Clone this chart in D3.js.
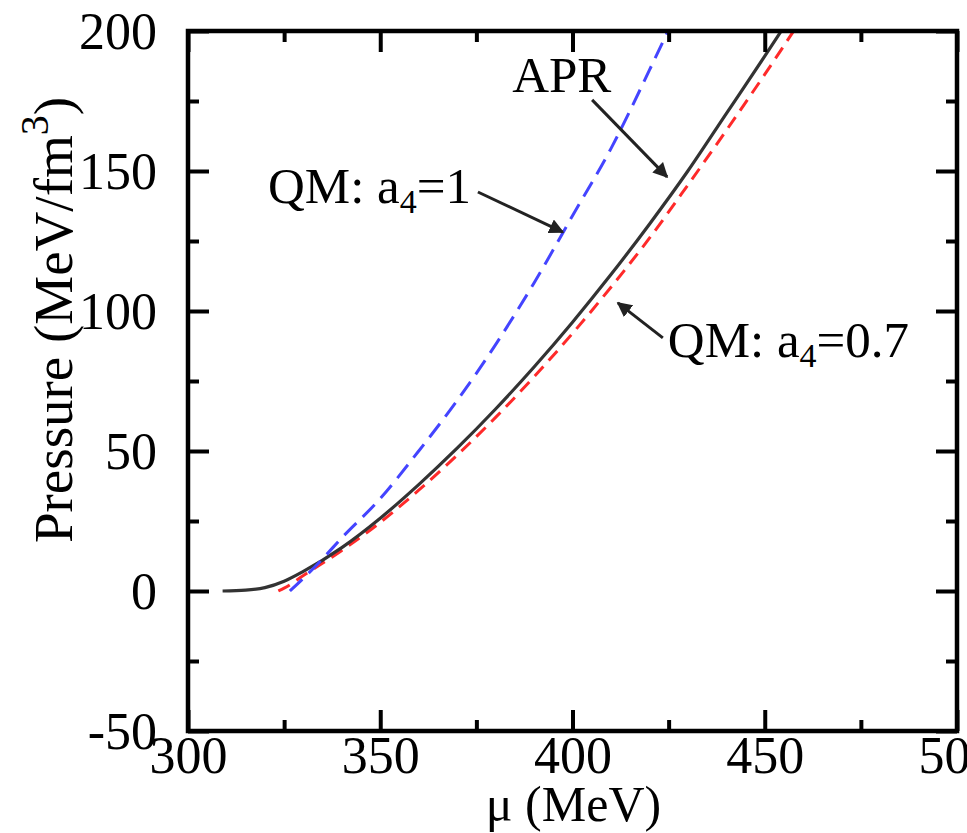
<!DOCTYPE html>
<html>
<head>
<meta charset="utf-8">
<script src="https://cdn.jsdelivr.net/npm/d3@7"></script>
<style>
  html, body { margin: 0; padding: 0; background: #fff; }
  svg { display: block; }
  text { font-family: "Liberation Serif", "Times New Roman", serif; fill: #000; }
</style>
</head>
<body>
<svg id="chart" width="967" height="833"></svg>
<script>
// ---- data ----
const xTicks = [300, 350, 400, 450, 500];
const xTickLabels = ["300", "350", "400", "450", "500"];
const yTicks = [-50, 0, 50, 100, 150, 200];
const yTickLabels = ["-50", "0", "50", "100", "150", "200"];
const xMinorTicks = [325, 375, 425, 475];
const yMinorTicks = [-25, 25, 75, 125, 175];

// APR (solid black)
const muAPR = [309, 315, 320, 325, 330, 340, 350, 360, 370, 380, 390, 400, 410, 420, 430, 440, 450, 455];
const pAPR  = [0, 0.3, 1.2, 3.5, 7, 15.5, 26, 38, 51, 65, 80, 96, 113, 131, 150, 170.5, 191, 201.5];

// QM: a4=1 (blue dashed)
const muQM1 = [326.5, 330, 335, 340, 350, 360, 370, 380, 390, 400, 410, 420, 425];
const pQM1  = [0, 4.5, 11.5, 19, 33, 50, 68, 88, 110, 134, 158, 186, 200.5];

// QM: a4=0.7 (red dashed)
const muQM07 = [323.5, 325, 330, 340, 350, 360, 370, 380, 390, 400, 410, 420, 430, 440, 450, 458];
const pQM07  = [0, 1, 5.5, 14.5, 24.5, 36, 48.5, 62, 76.5, 92, 108.5, 126, 145, 164.5, 184.5, 201];

// annotations (data coordinates)
const annotations = [
  { parts: [["APR", null]], x: 384.3, y: 178.2, from: [405.1, 175.4], to: [424.6, 147.9] },
  { parts: [["QM: a", null], ["4", "sub"], ["=1", null]], x: 320.8, y: 138.6, from: [375.4, 142.5], to: [397.5, 128.2] },
  { parts: [["QM: a", null], ["4", "sub"], ["=0.7", null]], x: 424.8, y: 83.6, from: [423.5, 90.4], to: [411.8, 102.9] }
];

// ---- layout ----
const pL = 188, pR = 957, pT = 31, pB = 731;
const svg = d3.select("#chart");
const x = d3.scaleLinear().domain([300, 500]).range([pL, pR]);
const y = d3.scaleLinear().domain([-50, 200]).range([pB, pT]);

const fontSize = 52;
const majorLen = 21, minorLen = 11, tickW = 4;

const defs = svg.append("defs");
defs.append("clipPath").attr("id", "plotclip")
  .append("rect").attr("x", pL).attr("y", pT).attr("width", pR - pL).attr("height", pB - pT);

defs.append("marker").attr("id", "arrow")
  .attr("viewBox", "0 0 10 10").attr("refX", 9).attr("refY", 5)
  .attr("markerWidth", 5).attr("markerHeight", 5).attr("orient", "auto")
  .attr("markerUnits", "strokeWidth")
  .append("path").attr("d", "M0,0 L10,5 L0,10 Z").attr("fill", "#222");

// ---- curves ----
const line = d3.line().x(d => x(d[0])).y(d => y(d[1])).curve(d3.curveMonotoneX);
const g = svg.append("g").attr("clip-path", "url(#plotclip)");

g.append("path").datum(d3.zip(muQM07, pQM07))
  .attr("d", line).attr("fill", "none").attr("stroke", "#ff2a2a")
  .attr("stroke-width", 3).attr("stroke-dasharray", "13,8");
g.append("path").datum(d3.zip(muAPR, pAPR))
  .attr("d", line).attr("fill", "none").attr("stroke", "#333")
  .attr("stroke-width", 3.2);
g.append("path").datum(d3.zip(muQM1, pQM1))
  .attr("d", line).attr("fill", "none").attr("stroke", "#4444ff")
  .attr("stroke-width", 3).attr("stroke-dasharray", "17,9");

// ---- axes ----
function styleAxis(sel) {
  sel.select(".domain").remove();
  sel.selectAll(".tick line").attr("stroke", "#000").attr("stroke-width", tickW);
  sel.selectAll(".tick text").attr("font-size", fontSize).attr("font-family", "Liberation Serif, serif").attr("fill", "#000");
}

// bottom major with labels
const xb = svg.append("g").attr("transform", `translate(0,${pB})`)
  .call(d3.axisBottom(x).tickValues(xTicks).tickFormat((d, i) => xTickLabels[i]).tickSize(-majorLen).tickPadding(42));
styleAxis(xb);
xb.selectAll(".tick text").attr("dy", "0");
svg.append("g").attr("transform", `translate(0,${pB})`)
  .call(d3.axisBottom(x).tickValues(xMinorTicks).tickFormat("").tickSize(-minorLen)).call(styleAxis);
// top mirrored
svg.append("g").attr("transform", `translate(0,${pT})`)
  .call(d3.axisTop(x).tickValues(xTicks).tickFormat("").tickSize(-majorLen)).call(styleAxis);
svg.append("g").attr("transform", `translate(0,${pT})`)
  .call(d3.axisTop(x).tickValues(xMinorTicks).tickFormat("").tickSize(-minorLen)).call(styleAxis);

// left major with labels
const yl = svg.append("g").attr("transform", `translate(${pL},0)`)
  .call(d3.axisLeft(y).tickValues(yTicks).tickFormat((d, i) => yTickLabels[i]).tickSize(-majorLen).tickPadding(31));
styleAxis(yl);
yl.selectAll(".tick text").attr("dy", "0.34em");
svg.append("g").attr("transform", `translate(${pL},0)`)
  .call(d3.axisLeft(y).tickValues(yMinorTicks).tickFormat("").tickSize(-minorLen)).call(styleAxis);
// right mirrored
svg.append("g").attr("transform", `translate(${pR},0)`)
  .call(d3.axisRight(y).tickValues(yTicks).tickFormat("").tickSize(-majorLen)).call(styleAxis);
svg.append("g").attr("transform", `translate(${pR},0)`)
  .call(d3.axisRight(y).tickValues(yMinorTicks).tickFormat("").tickSize(-minorLen)).call(styleAxis);

// frame
svg.append("rect").attr("x", pL).attr("y", pT).attr("width", pR - pL).attr("height", pB - pT)
  .attr("fill", "none").attr("stroke", "#000").attr("stroke-width", 4.5);

// ---- axis titles ----
svg.append("text").attr("x", (pL + pR) / 2 + 1).attr("y", 821)
  .attr("text-anchor", "middle").attr("font-size", 50).text("μ (MeV)");

const yt = svg.append("text").attr("transform", `translate(72,320) rotate(-90)`)
  .attr("text-anchor", "middle").attr("font-size", 55);
yt.append("tspan").text("Pressure (MeV/fm");
yt.append("tspan").attr("font-size", 40).attr("dy", "-0.6em").text("3");
yt.append("tspan").attr("dy", "0.44em").text(")");

// ---- annotations ----
annotations.forEach(a => {
  const t = svg.append("text").attr("x", x(a.x)).attr("y", y(a.y)).attr("font-size", 51);
  a.parts.forEach(([s, kind], i) => {
    if (kind === "sub") {
      t.append("tspan").attr("font-size", 34).attr("dy", "0.3em").text(s);
    } else {
      const ts = t.append("tspan").text(s);
      if (i > 0) ts.attr("dy", "-0.2em");
    }
  });
  svg.append("line")
    .attr("x1", x(a.from[0])).attr("y1", y(a.from[1]))
    .attr("x2", x(a.to[0])).attr("y2", y(a.to[1]))
    .attr("stroke", "#222").attr("stroke-width", 3).attr("marker-end", "url(#arrow)");
});
</script>
</body>
</html>
